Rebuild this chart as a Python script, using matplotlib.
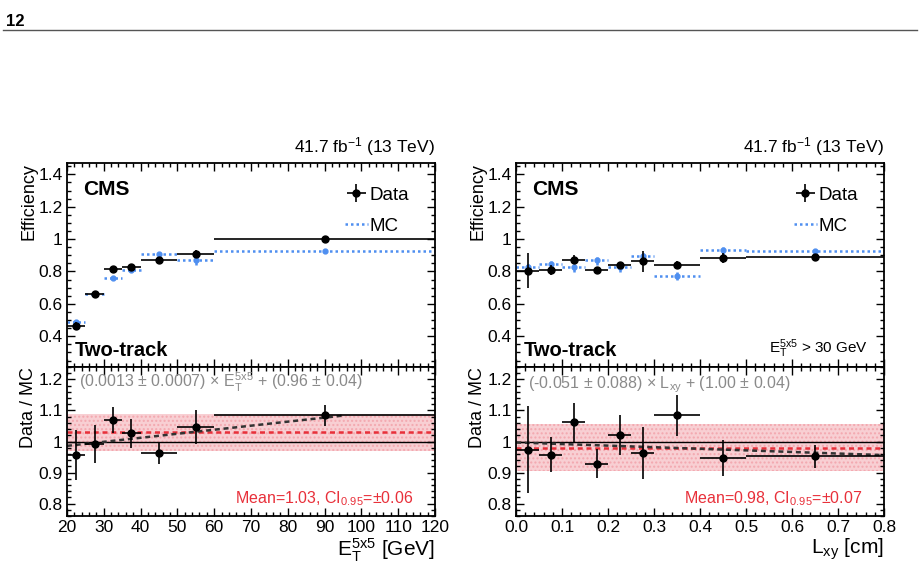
import numpy as np
import matplotlib
matplotlib.use("Agg")
import matplotlib.pyplot as plt
from matplotlib.ticker import MultipleLocator
from matplotlib.lines import Line2D

plt.rcParams['font.family'] = ['Liberation Sans', 'DejaVu Sans']
plt.rcParams['mathtext.fontset'] = 'custom'
plt.rcParams['mathtext.rm'] = 'Liberation Sans'
plt.rcParams['mathtext.it'] = 'Liberation Sans:italic'
plt.rcParams['mathtext.bf'] = 'Liberation Sans:bold'

# ---- left: E_T bins ----
et_lo = [20, 25, 30, 35, 40, 50, 60]
et_hi = [25, 30, 35, 40, 50, 60, 120]
et_data_eff = [0.462, 0.662, 0.814, 0.827, 0.872, 0.909, 1.000]
et_data_err = [0.025, 0.020, 0.010, 0.015, 0.015, 0.025, 0.010]
et_mc_eff = [0.485, 0.664, 0.761, 0.808, 0.907, 0.868, 0.928]
et_mc_err = [0.010, 0.010, 0.010, 0.010, 0.010, 0.030, 0.010]
et_ratio = [0.957, 0.993, 1.070, 1.026, 0.963, 1.047, 1.084]
et_ratio_err = [0.080, 0.061, 0.042, 0.046, 0.035, 0.054, 0.033]
et_mean, et_band, et_ci_label = 1.03, 0.06, '0.06'
et_slope, et_icpt = 0.0013, 0.96
et_fit_range = [20, 95]

# ---- right: L_xy bins ----
lxy_lo = [0.0, 0.05, 0.10, 0.15, 0.20, 0.25, 0.30, 0.40, 0.50]
lxy_hi = [0.05, 0.10, 0.15, 0.20, 0.25, 0.30, 0.40, 0.50, 0.80]
lxy_data_eff = [0.806, 0.808, 0.874, 0.808, 0.841, 0.864, 0.843, 0.885, 0.887]
lxy_data_err = [0.110, 0.030, 0.025, 0.020, 0.020, 0.065, 0.020, 0.030, 0.020]
lxy_mc_eff = [0.829, 0.845, 0.825, 0.870, 0.829, 0.895, 0.775, 0.932, 0.928]
lxy_mc_err = [0.030, 0.030, 0.030, 0.030, 0.030, 0.030, 0.030, 0.030, 0.010]
lxy_ratio = [0.974, 0.958, 1.062, 0.928, 1.020, 0.963, 1.084, 0.947, 0.953]
lxy_ratio_err = [0.140, 0.057, 0.063, 0.047, 0.064, 0.085, 0.065, 0.058, 0.037]
lxy_mean, lxy_band, lxy_ci_label = 0.98, 0.075, '0.07'
lxy_slope, lxy_icpt = -0.051, 0.997
lxy_fit_range = [0.0, 0.8]

MC_BLUE = '#4f8ff0'
RED = '#e8303a'
GRAY = '#8a8a8a'
BAND = '#f7c3c8'


def style_axis(ax, xmaj, xmin, ymaj, ymin):
    ax.xaxis.set_major_locator(MultipleLocator(xmaj))
    ax.xaxis.set_minor_locator(MultipleLocator(xmin))
    ax.yaxis.set_major_locator(MultipleLocator(ymaj))
    ax.yaxis.set_minor_locator(MultipleLocator(ymin))
    ax.tick_params(which='both', direction='in', top=True, right=True, width=1.0)
    ax.tick_params(which='major', length=6, labelsize=12.5, pad=3)
    ax.tick_params(which='minor', length=3)
    for s in ax.spines.values():
        s.set_linewidth(1.3)


def draw_panel(fig, x0, lo, hi, d_eff, d_err, m_eff, m_err, ratio, r_err,
               mean, band, ci_label, slope, icpt, fit_range, xlim, xmaj, xmin,
               fit_text, xlabel, extra_text=None):
    lo = np.array(lo)
    hi = np.array(hi)
    xc = (lo + hi) / 2
    xw = (hi - lo) / 2

    ax = fig.add_axes([x0, 0.3561, 0.4, 0.3579])
    rx = fig.add_axes([x0, 0.0947, 0.4, 0.2614], sharex=ax)

    # MC
    eb = ax.errorbar(xc, m_eff, xerr=xw, yerr=m_err, fmt='o', ms=3.5,
                     color=MC_BLUE, elinewidth=1.8, capsize=0, zorder=2)
    for lc in eb[2]:
        lc.set_linestyle((0, (1, 1.2)))
    # data
    ed = ax.errorbar(xc, d_eff, xerr=xw, yerr=d_err, fmt='o', ms=5,
                     color='black', elinewidth=1.2, capsize=0, zorder=3)

    ax.set_xlim(*xlim)
    ax.set_ylim(0.21, 1.47)
    style_axis(ax, xmaj, xmin, 0.2, 0.05)
    ax.tick_params(labelbottom=False)
    ax.set_yticks([0.4, 0.6, 0.8, 1.0, 1.2, 1.4])
    ax.set_yticklabels(['0.4', '0.6', '0.8', '1', '1.2', '1.4'])
    ax.set_ylabel('Efficiency', fontsize=13, loc='top', labelpad=1)

    ax.text(1.0, 1.025, r'41.7 fb$^{-1}$ (13 TeV)', transform=ax.transAxes,
            ha='right', va='bottom', fontsize=12.5)
    ax.text(0.045, 0.915, 'CMS', transform=ax.transAxes, ha='left', va='top',
            fontsize=15, fontweight='bold')
    ax.text(0.02, 0.054, 'Two-track', transform=ax.transAxes, ha='left',
            va='baseline', fontsize=14.5, fontweight='bold')
    if extra_text:
        ax.text(0.955, 0.069, extra_text, transform=ax.transAxes, ha='right',
                va='baseline', fontsize=11)

    mc_handle = Line2D([], [], color=MC_BLUE, ls=(0, (1, 1.2)), lw=1.8)
    ax.legend([ed, mc_handle], ['Data', 'MC'], loc='upper right',
              bbox_to_anchor=(0.96, 0.94), frameon=False, fontsize=13.5,
              handlelength=1.2, handletextpad=0.1, labelspacing=0.75,
              borderaxespad=0.2)

    # ratio panel
    rx.fill_between(xlim, mean - band, mean + band, facecolor=BAND, alpha=0.8,
                    hatch='....', edgecolor='#f2a0a8', linewidth=0, zorder=0)
    rx.axhline(1.0, color='black', lw=1.0, zorder=1)
    rx.axhline(mean, color=RED, lw=1.8, ls=(0, (2, 1.5)), zorder=2)
    fx = np.array(fit_range)
    rx.plot(fx, slope * fx + icpt, color='#333333', lw=1.8,
            ls=(0, (2, 1.5)), zorder=2)
    rx.errorbar(xc, ratio, xerr=xw, yerr=r_err, fmt='o', ms=5, color='black',
                elinewidth=1.2, capsize=0, zorder=3)
    rx.set_xlim(*xlim)
    rx.set_ylim(0.76, 1.24)
    style_axis(rx, xmaj, xmin, 0.1, 0.02)
    rx.set_yticks([0.8, 0.9, 1.0, 1.1, 1.2])
    rx.set_yticklabels(['0.8', '0.9', '1', '1.1', '1.2'])
    rx.set_ylabel('Data / MC', fontsize=13, loc='top', labelpad=1)
    rx.set_xlabel(xlabel, fontsize=15, loc='right', labelpad=1)

    rx.text(0.033, 0.86, fit_text, transform=rx.transAxes, ha='left',
            va='baseline', fontsize=11.5, color=GRAY)
    rx.text(0.94, 0.087, 'Mean=%.2f, CI$_{0.95}$=$\\pm$%s' % (mean, ci_label),
            transform=rx.transAxes, ha='right', va='baseline', fontsize=11.5,
            color=RED)
    return ax, rx


fig = plt.figure(figsize=(9.2, 5.7), dpi=100)

fig.text(0.006, 0.975, '12', ha='left', va='top', fontsize=12, fontweight='bold')
fig.add_artist(Line2D([0.003, 0.997], [0.947, 0.947], color='#555555', lw=1.0))

draw_panel(fig, 0.0728, et_lo, et_hi, et_data_eff, et_data_err, et_mc_eff,
           et_mc_err, et_ratio, et_ratio_err, et_mean, et_band, et_ci_label,
           et_slope, et_icpt, et_fit_range, (20, 120), 10, 2,
           r'(0.0013 $\pm$ 0.0007) $\times$ E$_{\rm T}^{\rm 5x5}$ + (0.96 $\pm$ 0.04)',
           r'E$_{\rm T}^{\rm 5x5}$ [GeV]')

draw_panel(fig, 0.5609, lxy_lo, lxy_hi, lxy_data_eff, lxy_data_err,
           lxy_mc_eff, lxy_mc_err, lxy_ratio, lxy_ratio_err, lxy_mean,
           lxy_band, lxy_ci_label, lxy_slope, lxy_icpt, lxy_fit_range,
           (0.0, 0.8), 0.1, 0.02,
           r'(-0.051 $\pm$ 0.088) $\times$ L$_{\rm xy}$ + (1.00 $\pm$ 0.04)',
           r'L$_{\rm xy}$ [cm]',
           extra_text=r'E$_{\rm T}^{\rm 5x5}$ > 30 GeV')

fig.savefig('out.png', dpi=100)
